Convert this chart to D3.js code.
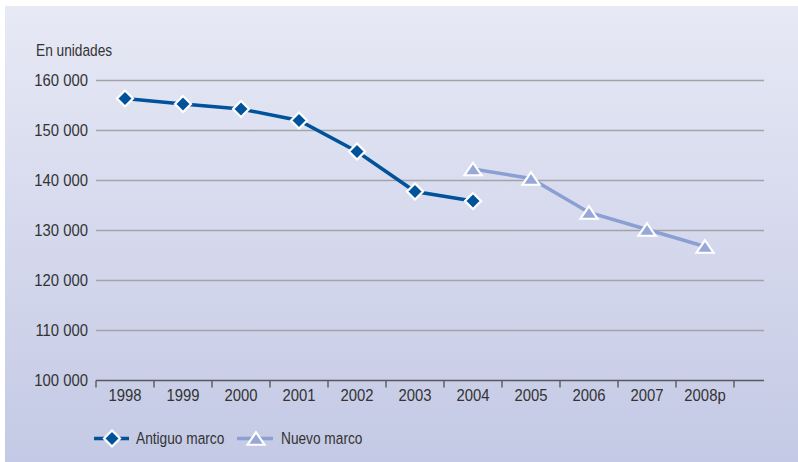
<!DOCTYPE html>
<html><head><meta charset="utf-8">
<script src="https://cdn.jsdelivr.net/npm/d3@7"></script>
<style>
html,body{margin:0;padding:0;background:#fff;}
svg{display:block;}
text{font-family:"Liberation Sans",Arial,sans-serif;fill:#333;}
</style></head>
<body>
<svg id="chart" width="798" height="462"></svg>
<script>
const categories = ["1998","1999","2000","2001","2002","2003","2004","2005","2006","2007","2008p"];
const antiguoMarco = [156400,155300,154300,152000,145800,137800,135900,null,null,null,null];
const nuevoMarco = [null,null,null,null,null,null,142300,140400,133600,130200,126800];
const yTicks = [100000,110000,120000,130000,140000,150000,160000];
const yUnit = "En unidades";
const seriesNames = ["Antiguo marco","Nuevo marco"];

const svg = d3.select("#chart");
const W = 798, H = 462;

const defs = svg.append("defs");
const grad = defs.append("linearGradient").attr("id","bg").attr("x1",0).attr("y1",0).attr("x2",0).attr("y2",1);
grad.append("stop").attr("offset","0%").attr("stop-color","#e7e9f5");
grad.append("stop").attr("offset","100%").attr("stop-color","#c4c9e5");
svg.append("rect").attr("x",5).attr("y",6).attr("width",W-5).attr("height",H-6).attr("fill","url(#bg)");

const x = d3.scaleBand().domain(categories).range([96,734]).padding(0);
const xEnd = 764;
const y = d3.scaleLinear().domain([100000,160000]).range([380.5,80.5]);

const loc = d3.formatLocale({decimal:",",thousands:" ",grouping:[3],currency:["",""]});
const fmt = loc.format(",d");

const FS = 16.5, SX_NUM = 0.9, SX_TXT = 0.83;

// gridlines
svg.append("g").selectAll("line").data(yTicks.filter(d=>d>100000)).join("line")
  .attr("x1",96).attr("x2",xEnd).attr("y1",d=>y(d)).attr("y2",d=>y(d))
  .attr("stroke","#a3a3a8").attr("stroke-width",1.4);

// y labels
svg.append("g").selectAll("text").data(yTicks).join("text")
  .attr("transform",d=>`translate(88,${y(d)}) scale(${SX_NUM},1)`)
  .attr("dy","0.36em").attr("text-anchor","end")
  .attr("font-size",FS).text(d=>fmt(d));

svg.append("text").attr("transform",`translate(36,56) scale(${SX_TXT},1)`).attr("font-size",FS).text(yUnit);

// x axis
const xAxis = d3.axisBottom(x).tickSize(0).tickPadding(0);
const gx = svg.append("g").attr("transform",`translate(0,${y(100000)})`).call(xAxis);
gx.select(".domain").remove();
gx.selectAll(".tick text").attr("y",0).attr("dy",null)
  .attr("transform",`translate(0,20.5) scale(${SX_NUM},1)`)
  .attr("font-size",FS).attr("fill","#333")
  .style("font-family",'"Liberation Sans",Arial,sans-serif');
gx.append("line").attr("x1",96).attr("x2",xEnd).attr("y1",0).attr("y2",0).attr("stroke","#5a5a5e").attr("stroke-width",1.6);
const boundaries = categories.map(c=>x(c)).concat([x(categories[categories.length-1])+x.bandwidth()]);
gx.selectAll(".bnd").data(boundaries).join("line").attr("class","bnd")
  .attr("x1",d=>d).attr("x2",d=>d).attr("y1",0).attr("y2",7).attr("stroke","#5a5a5e").attr("stroke-width",1.4);

const cx = c => x(c)+x.bandwidth()/2;
const darkBlue = "#00529b", lightBlue = "#8c9fd2", triFill = "#97a7d7";

const diamond = s => `M0,${-s}L${s},0L0,${s}L${-s},0Z`;
const triangle = (w,h) => `M0,${-h/2}L${w/2},${h/2}L${-w/2},${h/2}Z`;

function drawSeries(vals, color, width, markerPath, fill){
  const pts = categories.map((c,i)=>({c,v:vals[i]})).filter(d=>d.v!=null);
  const line = d3.line().x(d=>cx(d.c)).y(d=>y(d.v));
  svg.append("path").datum(pts).attr("d",line).attr("fill","none").attr("stroke",color).attr("stroke-width",width);
  svg.append("g").selectAll("path").data(pts).join("path")
    .attr("transform",d=>`translate(${cx(d.c)},${y(d.v)})`)
    .attr("d",markerPath).attr("fill",fill).attr("stroke","#ffffff").attr("stroke-width",2.2);
}
drawSeries(nuevoMarco, lightBlue, 3.5, triangle(17,12.5), triFill);
drawSeries(antiguoMarco, darkBlue, 3.5, diamond(8), darkBlue);

// legend
const ly = 438.5;
const lg = svg.append("g");
lg.append("line").attr("x1",94).attr("x2",129).attr("y1",ly).attr("y2",ly).attr("stroke",darkBlue).attr("stroke-width",3.5);
lg.append("path").attr("transform",`translate(112,${ly})`).attr("d",diamond(8)).attr("fill",darkBlue).attr("stroke","#fff").attr("stroke-width",2.2);
lg.append("text").attr("transform",`translate(136,${ly}) scale(${SX_TXT},1)`).attr("dy","0.36em").attr("font-size",FS).text(seriesNames[0]);
lg.append("line").attr("x1",237).attr("x2",273).attr("y1",ly).attr("y2",ly).attr("stroke",lightBlue).attr("stroke-width",3.5);
lg.append("path").attr("transform",`translate(256,${ly})`).attr("d",triangle(17,12.5)).attr("fill",triFill).attr("stroke","#fff").attr("stroke-width",2.2);
lg.append("text").attr("transform",`translate(281,${ly}) scale(${SX_TXT},1)`).attr("dy","0.36em").attr("font-size",FS).text(seriesNames[1]);
</script>
</body></html>
